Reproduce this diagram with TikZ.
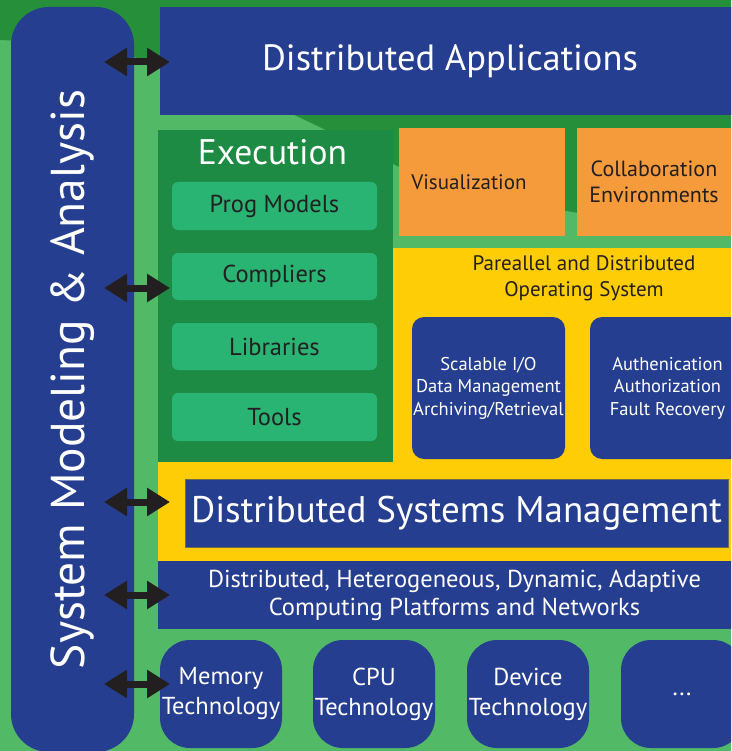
\documentclass[tikz,border=0pt]{standalone}
\usepackage{fontspec}
\setmainfont{PT Sans}
\usetikzlibrary{arrows.meta,positioning}

\definecolor{appblue}{RGB}{37,62,143}
\definecolor{bgdark}{RGB}{37,143,58}
\definecolor{bglight}{RGB}{82,185,102}
\definecolor{execgreen}{RGB}{30,139,69}
\definecolor{toolgreen}{RGB}{41,180,115}
\definecolor{vizorange}{RGB}{246,155,59}
\definecolor{osyellow}{RGB}{254,205,6}
\definecolor{inkdark}{RGB}{35,31,32}
\definecolor{dsmedge}{RGB}{110,105,80}

\tikzset{
  block/.style={anchor=north west, inner sep=0pt, outer sep=0pt, align=center},
  blueblock/.style={block, fill=appblue, text=white},
  toolbox/.style={block, fill=toolgreen, text=inkdark, rounded corners=6pt,
    minimum width=205pt, minimum height=47pt, font=\fontsize{24.5}{26}\selectfont},
  orangebox/.style={block, fill=vizorange, text=inkdark, minimum height=108pt,
    font=\fontsize{21}{26}\selectfont},
  osbox/.style={blueblock, rounded corners=12pt, minimum width=153pt, minimum height=142pt,
    font=\fontsize{18.5}{22.5}\selectfont},
  techbox/.style={blueblock, rounded corners=30pt, minimum width=122pt, minimum height=108pt,
    font=\fontsize{24.5}{30}\selectfont},
  biarrow/.style={draw=inkdark, line width=7pt,
    {Triangle[length=23pt,width=27pt]}-{Triangle[length=23pt,width=27pt]}}
}

\begin{document}
\begin{tikzpicture}[x=1pt, y=-1pt]

\useasboundingbox (0,0) rectangle (731,751);
\clip (0,0) rectangle (731,751);

%Background
\fill[bglight] (0,0) rectangle (731,751);
\fill[bgdark] (0,0) -- (0,40) .. controls (150,45) and (250,90) .. (395,165)
  .. controls (480,205) and (600,215) .. (731,235) -- (731,0) -- cycle;
\fill[osyellow] (158,248) rectangle (770,561);

%Left column
\node[blueblock, anchor=center, rotate=90, rounded corners=38pt, minimum width=745pt,
  minimum height=123pt, font=\fontsize{47.5}{50}\selectfont] (sma) at (72.5,379.5)
  {System Modeling \& Analysis};

%Top layer
\node[blueblock, minimum width=580pt, minimum height=108pt,
  font=\fontsize{36.5}{40}\selectfont] (apps) at (160,7) {Distributed Applications};

%Execution
\node[block, fill=execgreen, minimum width=235pt, minimum height=332pt] (exec) at (158,130) {};
\node[anchor=base, text=white, font=\fontsize{35.5}{38}\selectfont] (exectitle)
  at ([xshift=-3pt,yshift=-35pt]exec.north) {Execution};
\node[toolbox, minimum height=48pt] (prog) at (172,182) {Prog Models};
\node[toolbox, below=23pt of prog] (compl) {Compliers};
\node[toolbox, below=23pt of compl] (libs) {Libraries};
\node[toolbox, minimum height=48pt, below=23pt of libs] (tools) {Tools};

%Visualization and collaboration
\node[orangebox, minimum width=166pt] (viz) at (399,128) {Visualization\hspace*{26pt}};
\node[orangebox, minimum width=154pt, font=\fontsize{22}{26}\selectfont] (collab) at (577,128)
  {Collaboration\\Environments};

%Operating system
\node[text=inkdark, align=center, font=\fontsize{21}{26}\selectfont] (ostitle) at (584,278)
  {Pareallel and Distributed\\Operating System};
\node[osbox] (scal) at (412,317) {Scalable I/O\\Data Management\\Archiving/Retrieval};
\node[osbox, minimum width=155pt, right=25pt of scal] (auth) {Authenication\\Authorization\\Fault Recovery};

%Management and platforms
\node[blueblock, draw=dsmedge, line width=0.8pt, minimum width=543pt, minimum height=68pt,
  font=\fontsize{37}{40}\selectfont] (dsm) at (185,479) {Distributed Systems Management};
\node[blueblock, minimum width=593pt, minimum height=68pt,
  font=\fontsize{24.5}{28}\selectfont] (plat) at (158,561)
  {Distributed, Heterogeneous, Dynamic, Adaptive\\Computing Platforms and Networks};

%Technologies
\node[techbox] (mem) at (160,640) {Memory\\Technology};
\node[techbox, right=31pt of mem] (cpu) {CPU\\Technology};
\node[techbox, right=32pt of cpu] (dev) {Device\\Technology};
\node[techbox, right=32pt of dev] (more) {...};

%Arrows
\coordinate (tailx) at (104,0);
\coordinate (tipx) at (170,0);
\foreach \dst/\dy in {apps/-1, exec/8, dsm/11, plat/0, mem/10}
  \draw[biarrow] ([yshift=\dy pt]\dst.west -| tailx) -- ([yshift=\dy pt]\dst.west -| tipx);

\end{tikzpicture}
\end{document}
